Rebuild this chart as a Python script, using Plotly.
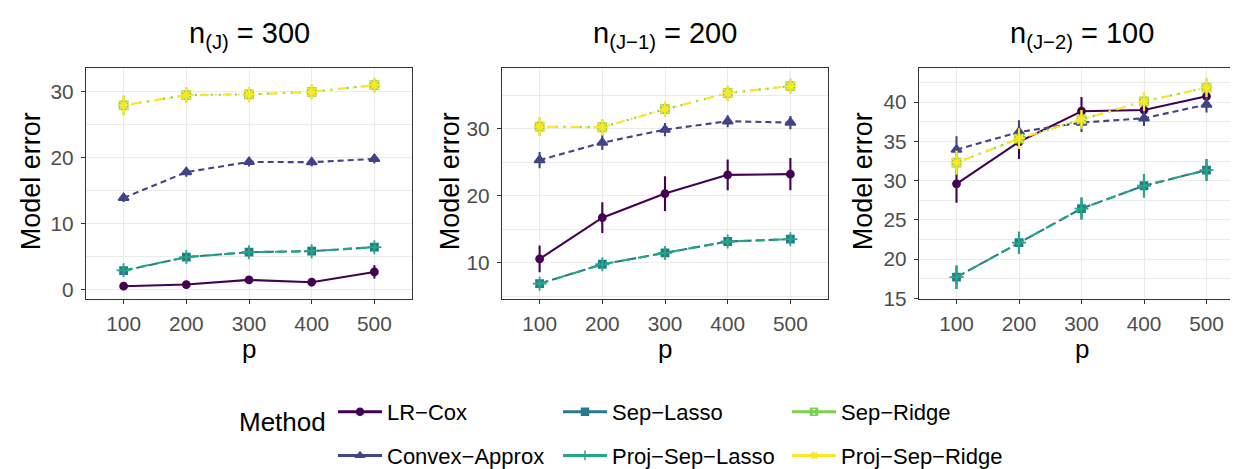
import plotly.graph_objects as go

W, H = 1238, 469

p_values = [100, 200, 300, 400, 500]
methods = ["LR−Cox", "Convex−Approx", "Sep−Lasso", "Proj−Sep−Lasso", "Sep−Ridge", "Proj−Sep−Ridge"]
panel_titles = ["n<sub>(J)</sub> = 300", "n<sub>(J−1)</sub> = 200", "n<sub>(J−2)</sub> = 100"]

# ---- panel 1: n(J) = 300
p1_lrcox = [0.55, 0.8, 1.5, 1.15, 2.7]
p1_convex = [13.9, 17.8, 19.35, 19.3, 19.8]
p1_seplasso = [2.9, 4.95, 5.7, 5.85, 6.45]
p1_projlasso = [2.95, 4.95, 5.7, 5.85, 6.45]
p1_sepridge = [27.9, 29.45, 29.55, 29.95, 30.95]
p1_projridge = [27.9, 29.45, 29.55, 29.95, 30.95]
p1_lrcox_se = [0.2, 0.3, 0.6, 0.5, 1.0]
p1_convex_se = [0.6, 0.7, 0.7, 0.6, 0.7]
p1_lasso_se = [0.3, 0.4, 0.4, 0.4, 0.4]
p1_ridge_se = [1.5, 1.2, 1.1, 1.1, 1.1]

# ---- panel 2: n(J-1) = 200
p2_lrcox = [10.55, 16.7, 20.3, 23.1, 23.2]
p2_convex = [25.3, 27.9, 29.85, 31.1, 30.9]
p2_seplasso = [6.85, 9.75, 11.45, 13.15, 13.5]
p2_projlasso = [6.85, 9.75, 11.45, 13.15, 13.5]
p2_sepridge = [30.3, 30.2, 32.9, 35.3, 36.35]
p2_projridge = [30.3, 30.2, 32.9, 35.3, 36.35]
p2_lrcox_se = [2.0, 2.3, 2.6, 2.3, 2.4]
p2_convex_se = [1.2, 1.1, 1.0, 0.9, 1.0]
p2_lasso_se = [0.4, 0.5, 0.5, 0.5, 0.5]
p2_ridge_se = [1.4, 1.2, 1.1, 1.1, 1.1]

# ---- panel 3: n(J-2) = 100
p3_lrcox = [29.6, 34.95, 38.85, 39.0, 40.75]
p3_convex = [33.95, 36.2, 37.4, 37.95, 39.7]
p3_seplasso = [17.7, 22.1, 26.45, 29.35, 31.35]
p3_projlasso = [17.7, 22.1, 26.45, 29.35, 31.35]
p3_sepridge = [32.3, 35.35, 37.8, 40.1, 41.85]
p3_projridge = [32.3, 35.35, 37.8, 40.1, 41.85]
p3_lrcox_se = [2.4, 2.2, 1.8, 0.6, 0.5]
p3_convex_se = [1.7, 1.5, 1.2, 1.0, 1.0]
p3_lasso_se = [1.5, 1.4, 1.4, 1.5, 1.4]
p3_ridge_se = [1.5, 1.3, 1.2, 1.2, 1.2]

panels = [
    [p1_lrcox, p1_convex, p1_seplasso, p1_projlasso, p1_sepridge, p1_projridge],
    [p2_lrcox, p2_convex, p2_seplasso, p2_projlasso, p2_sepridge, p2_projridge],
    [p3_lrcox, p3_convex, p3_seplasso, p3_projlasso, p3_sepridge, p3_projridge],
]
panel_se = [
    [p1_lrcox_se, p1_convex_se, p1_lasso_se, p1_lasso_se, p1_ridge_se, p1_ridge_se],
    [p2_lrcox_se, p2_convex_se, p2_lasso_se, p2_lasso_se, p2_ridge_se, p2_ridge_se],
    [p3_lrcox_se, p3_convex_se, p3_lasso_se, p3_lasso_se, p3_ridge_se, p3_ridge_se],
]

colors = ["#440154", "#414487", "#2A788E", "#22A884", "#7AD151", "#FDE725"]
dashes = ["solid", "6px,4px", "9px,4px", "9px,8px", "2px,6px", "2px,6px,9px,6px"]
symbols = ["circle", "triangle-up", "square", "cross-thin-open", "square-x-open", "asterisk-open"]
msizes = [7, 9, 7, 10, 8, 10]
legend_ids = ["legend", "legend", "legend2", "legend2", "legend3", "legend3"]

# layout geometry in window pixels
px_x = [(78, 404), (494, 820), (911, 1236)]
px_y = (63, 307)
y_ranges = [[-1.33, 33.6], [4.62, 39.1], [14.97, 44.4]]
y_dtick = [10, 10, 5]
ytitle_cx = [23, 442, 855]


def fx(px):
    return px / W


def fy(py):
    return 1 - py / H


FONT = "Liberation Sans, Arial, sans-serif"

fig = go.Figure()
for k in range(3):
    xa = "x" if k == 0 else f"x{k+1}"
    ya = "y" if k == 0 else f"y{k+1}"
    for m in range(6):
        fig.add_trace(go.Scatter(
            x=p_values, y=panels[k][m], xaxis=xa, yaxis=ya,
            mode="lines+markers", name=methods[m],
            line=dict(color=colors[m], width=2.1, dash=dashes[m]),
            marker=dict(symbol=symbols[m], size=msizes[m], color=colors[m],
                        line=dict(color=colors[m], width=1.8)),
            error_y=dict(type="data", array=panel_se[k][m], width=0,
                         thickness=2.1, color=colors[m]),
            legendgroup=methods[m], showlegend=False,
        ))

# legend keys (ggplot-style solid keys)
for m in range(6):
    fig.add_trace(go.Scatter(
        x=[None], y=[None], mode="lines+markers", name=methods[m],
        line=dict(color=colors[m], width=3),
        marker=dict(symbol=symbols[m], size=7, color=colors[m],
                    line=dict(color=colors[m], width=1.5)),
        legendgroup=methods[m], showlegend=True, legend=legend_ids[m],
    ))

axis_common = dict(
    showline=True, mirror=True, linecolor="#333333", linewidth=1.3,
    gridcolor="#EBEBEB", gridwidth=1.3, zeroline=False,
    ticks="outside", ticklen=4, tickwidth=1.3, tickcolor="#333333",
    tickfont=dict(size=20.8, color="#4D4D4D", family=FONT),
)
layout = dict(
    width=W, height=H, margin=dict(l=0, r=0, t=0, b=0),
    paper_bgcolor="white", plot_bgcolor="white",
    font=dict(family=FONT, color="black"),
)
for k in range(3):
    xs = "xaxis" if k == 0 else f"xaxis{k+1}"
    ys = "yaxis" if k == 0 else f"yaxis{k+1}"
    ya_ref = "y" if k == 0 else f"y{k+1}"
    xa_ref = "x" if k == 0 else f"x{k+1}"
    layout[xs] = dict(
        domain=[fx(px_x[k][0]), fx(px_x[k][1])], anchor=ya_ref,
        range=[40, 560], tickvals=p_values, ticktext=[str(v) for v in p_values],
        ticklabelstandoff=2,
        **axis_common,
    )
    layout[ys] = dict(
        domain=[fy(px_y[1]), fy(px_y[0])], anchor=xa_ref,
        range=y_ranges[k], dtick=y_dtick[k], tick0=0,
        minor=dict(dtick=y_dtick[k] / 2, tick0=0, showgrid=True,
                   gridcolor="#EBEBEB", gridwidth=0.7, ticks=""),
        ticklabelstandoff=3,
        **axis_common,
    )

annotations = []
for k in range(3):
    cx = (px_x[k][0] + px_x[k][1]) / 2
    annotations.append(dict(
        text=panel_titles[k], x=fx(cx), y=fy(28), xref="paper", yref="paper",
        xanchor="center", yanchor="middle", showarrow=False,
        font=dict(size=29, family=FONT, color="black"),
    ))
    annotations.append(dict(
        text="Model error", x=fx(ytitle_cx[k]), y=fy(183), xref="paper", yref="paper",
        xanchor="center", yanchor="middle", showarrow=False, textangle=-90,
        font=dict(size=27, family=FONT, color="black"),
    ))
    annotations.append(dict(
        text="p", x=fx(cx), y=fy(342), xref="paper", yref="paper",
        xanchor="center", yanchor="top", showarrow=False,
        font=dict(size=26, family=FONT, color="black"),
    ))
annotations.append(dict(
    text="Method", x=fx(229), y=fy(437), xref="paper", yref="paper",
    xanchor="left", yanchor="middle", showarrow=False,
    font=dict(size=26, family=FONT, color="black"),
))
layout["annotations"] = annotations

legend_common = dict(
    orientation="v", yanchor="middle", y=fy(450), xanchor="left",
    bgcolor="rgba(0,0,0,0)", tracegroupgap=12, itemwidth=44,
    font=dict(size=22, family=FONT, color="black"),
)
layout["legend"] = dict(x=fx(325), **legend_common)
layout["legend2"] = dict(x=fx(550), **legend_common)
layout["legend3"] = dict(x=fx(779), **legend_common)

fig.update_layout(**layout)
fig.write_html("out.html")
